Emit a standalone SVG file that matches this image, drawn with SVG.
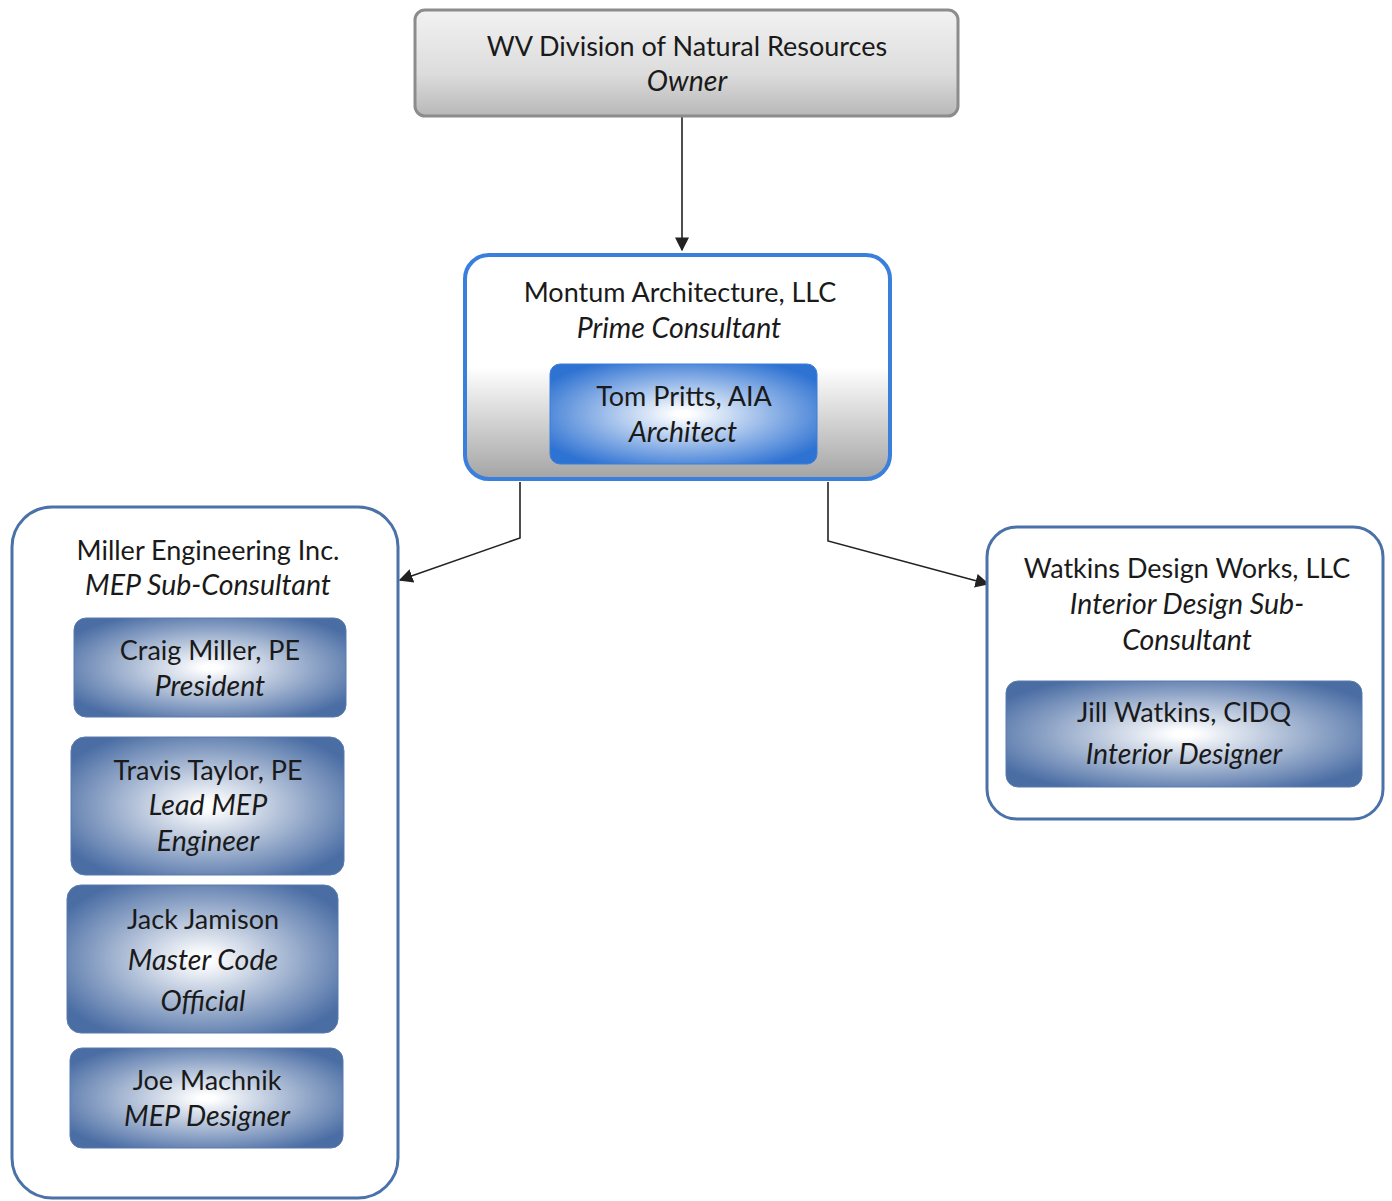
<svg xmlns="http://www.w3.org/2000/svg" width="1392" height="1201" viewBox="0 0 1392 1201">
<defs>
<linearGradient id="gGray" x1="0" y1="0" x2="0" y2="1">
<stop offset="0" stop-color="#f2f2f2"/><stop offset="0.6" stop-color="#dcdcdc"/><stop offset="1" stop-color="#b8b8b8"/>
</linearGradient>
<linearGradient id="gPrime" x1="0" y1="0" x2="0" y2="1">
<stop offset="0" stop-color="#ffffff"/><stop offset="0.5" stop-color="#ffffff"/><stop offset="1" stop-color="#a4a4a4"/>
</linearGradient>
<radialGradient id="gBlue" cx="0.5" cy="0.5" r="0.6">
<stop offset="0.05" stop-color="#ffffff"/><stop offset="1" stop-color="#2e72d2"/>
</radialGradient>
<radialGradient id="gSlate" cx="0.5" cy="0.5" r="0.6">
<stop offset="0.05" stop-color="#ffffff"/><stop offset="1" stop-color="#4a6da4"/>
</radialGradient>
<marker id="arr2" viewBox="0 0 10 10" refX="9" refY="5" markerWidth="14" markerHeight="14" markerUnits="userSpaceOnUse" orient="auto">
<path d="M0,0 L10,5 L0,10 z" fill="#222"/>
</marker>
</defs>
<style>
text{font-family:Lato,"Open Sans","Liberation Sans",sans-serif;font-size:27px;fill:#1a1a1a;text-anchor:middle}
.i{font-style:italic;font-size:28.5px}
.outer{fill:#ffffff;stroke:#4a72a8;stroke-width:3}
.slate{fill:url(#gSlate);stroke:#5a7bb0;stroke-width:1}
.conn{fill:none;stroke:#222;stroke-width:1.6}
</style>
<rect width="1392" height="1201" fill="#ffffff"/>
<g id="connectors">
<path class="conn" d="M682,117 V250" marker-end="url(#arr2)"/>
<path class="conn" d="M520,482 V538 L400,580" marker-end="url(#arr2)"/>
<path class="conn" d="M828,482 V541 L988,584" marker-end="url(#arr2)"/>
</g>
<g id="owner">
<rect x="415" y="10" width="543" height="106" rx="10" fill="url(#gGray)" stroke="#8c8c8c" stroke-width="3"/>
<text x="687" y="56">WV Division of Natural Resources</text>
<text x="687" y="91" class="i">Owner</text>
</g>
<g id="montum">
<rect x="465" y="255" width="425" height="224" rx="24" fill="url(#gPrime)" stroke="#3a7fdc" stroke-width="4"/>
<text x="680" y="302">Montum Architecture, LLC</text>
<text x="679" y="338" class="i">Prime Consultant</text>
<g id="pritts">
<rect x="550" y="364" width="267" height="100" rx="10" fill="url(#gBlue)" stroke="#3a7fdc" stroke-width="1"/>
<text x="684" y="406">Tom Pritts, AIA</text>
<text x="683" y="442" class="i">Architect</text>
</g>
</g>
<g id="miller">
<rect x="12" y="507" width="386" height="691" rx="40" class="outer"/>
<text x="208" y="560">Miller Engineering Inc.</text>
<text x="208" y="595" class="i">MEP Sub-Consultant</text>
<g id="craig">
<rect x="74" y="618" width="272" height="99" rx="12" class="slate"/>
<text x="210" y="660">Craig Miller, PE</text>
<text x="210" y="696" class="i">President</text>
</g>
<g id="travis">
<rect x="71" y="737" width="273" height="138" rx="14" class="slate"/>
<text x="208" y="780">Travis Taylor, PE</text>
<text x="208" y="815" class="i">Lead MEP</text>
<text x="208" y="851" class="i">Engineer</text>
</g>
<g id="jack">
<rect x="67" y="885" width="271" height="148" rx="14" class="slate"/>
<text x="203" y="929">Jack Jamison</text>
<text x="203" y="970" class="i">Master Code</text>
<text x="203" y="1011" class="i">Official</text>
</g>
<g id="joe">
<rect x="70" y="1048" width="273" height="100" rx="12" class="slate"/>
<text x="207" y="1090">Joe Machnik</text>
<text x="207" y="1126" class="i">MEP Designer</text>
</g>
</g>
<g id="watkins">
<rect x="987" y="527" width="396" height="292" rx="30" class="outer"/>
<text x="1187" y="578">Watkins Design Works, LLC</text>
<text x="1187" y="614" class="i">Interior Design Sub-</text>
<text x="1187" y="650" class="i">Consultant</text>
<g id="jill">
<rect x="1006" y="681" width="356" height="106" rx="12" class="slate"/>
<text x="1184" y="722">Jill Watkins, CIDQ</text>
<text x="1184" y="764" class="i">Interior Designer</text>
</g>
</g>
</svg>
